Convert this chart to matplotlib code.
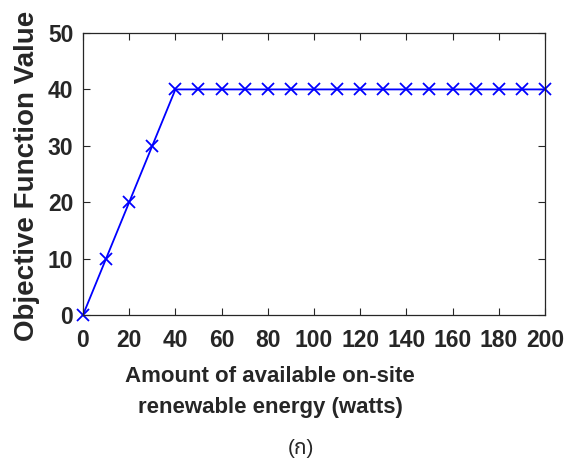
import matplotlib.pyplot as plt
import numpy as np

energy = [0, 10, 20, 30, 40, 50, 60, 70, 80, 90, 100, 110, 120, 130, 140,
          150, 160, 170, 180, 190, 200]
objective = [0, 10, 20, 30, 40, 40, 40, 40, 40, 40, 40, 40, 40, 40, 40,
             40, 40, 40, 40, 40, 40]

txt = '#262626'
plt.rcParams['font.family'] = ['Liberation Sans', 'DejaVu Sans']

fig = plt.figure(figsize=(5.68, 4.67), dpi=100)
ax = fig.add_axes([0.1461, 0.3255, 0.8134, 0.6038])
ax.plot(energy, objective, '-x', color='#0000ff', lw=1.3, ms=8, mew=1.3,
        clip_on=False)
ax.set_xlim(0, 200)
ax.set_ylim(0, 50)
ax.set_xticks(np.arange(0, 201, 20))
ax.set_yticks(np.arange(0, 51, 10))
ax.tick_params(direction='in', top=True, right=True, length=5, width=0.8,
               labelsize=16.5, colors=txt)
ax.tick_params(axis='x', pad=10)
ax.tick_params(axis='y', pad=7)
for lbl in ax.get_xticklabels() + ax.get_yticklabels():
    lbl.set_fontweight('bold')
for s in ax.spines.values():
    s.set_color(txt)
    s.set_linewidth(0.9)

fig.text(27 / 568, 1 - 176 / 467, 'Objective Function Value',
         rotation=90, ha='center', va='center', fontsize=20,
         fontweight='bold', color=txt)
fig.text(270 / 568, 1 - 392 / 467,
         'Amount of available on-site\nrenewable energy (watts)',
         ha='center', va='center', fontsize=16, fontweight='bold',
         color=txt, linespacing=1.62)
fig.text(301 / 568, 1 - 448 / 467, '(ก)', ha='center', va='center',
         fontsize=15, color=txt,
         family=['Liberation Sans', 'Noto Sans Thai', 'Noto Sans Thai UI',
                 'Noto Serif Thai', 'Loma', 'Garuda', 'Norasi', 'FreeSans',
                 'Tlwg Typo', 'Waree', 'Sarabun', 'Tahoma', 'Noto Sans',
                 'Noto Sans CJK JP', 'Open Sans', 'Lato', 'Inter', 'Roboto',
                 'DejaVu Sans', 'DejaVu Serif', 'Liberation Serif'])

fig.savefig('out.png', dpi=100)
